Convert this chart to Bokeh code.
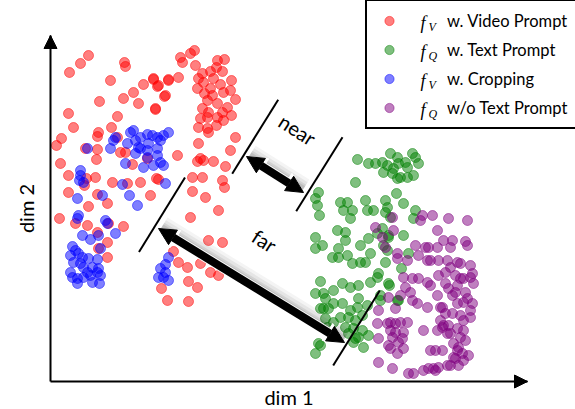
from bokeh.plotting import figure
from bokeh.models import (Range1d, FixedTicker, Arrow, NormalHead, Label,
                          LegendItem, Legend, ColumnDataSource)
from bokeh.embed import file_html
from bokeh.resources import INLINE

# ---------------- data (dim 1, dim 2) ----------------
VIDEO_PROMPT = [
    (88,55),(80,63),(69,72),(124,62),(125,66),(110,80),(99,101),(133,92),(138,103),(143,84),
    (153,79),(157,86),(168,79),(164,96),(155,109),(117,116),(123,98),(68,113),(73,127),(61,138),
    (56,145),(60,163),(98,132),(97,136),(111,127),(117,137),(85,148),(97,149),(96,159),(125,152),
    (68,175),(86,178),(95,177),(112,182),(127,183),(140,182),(156,178),(147,158),(177,155),(132,164),
    (120,152),(68,192),(84,185),(97,194),(107,203),(88,206),(59,218),(75,223),(87,225),(108,223),
    (123,226),(97,232),(107,242),(98,248),(107,257),(178,77),(168,80),(158,85),(153,78),(165,95),
    (155,108),(150,195),
    (180,57),(182,62),(190,53),(194,50),(195,65),(217,60),(224,59),(216,67),(222,71),(210,71),
    (202,73),(198,78),(203,82),(213,78),(231,80),(220,84),(197,88),(210,88),(204,93),(212,95),
    (223,92),(230,90),(235,99),(207,100),(217,103),(227,107),(202,108),(208,112),(222,112),(231,115),
    (200,118),(207,117),(217,117),(198,127),(207,128),(208,132),(216,125),(223,120),(235,137),(198,143),
    (230,150),(200,158),(197,161),(203,160),(213,161),(225,166),
    (222,180),(224,187),(192,177),(202,177),(192,191),(205,197),(218,210),(190,217),(208,240),(222,242),
    (158,179),(173,251),(178,262),(187,267),(161,288),(167,300),(188,281),(197,287),(188,301),(200,263),
    (218,275),(210,272),
]
TEXT_PROMPT = [
    (390,153),(397,157),(412,153),(415,157),(418,163),(357,159),(368,163),(375,163),(382,162),(387,165),
    (393,168),(398,163),(405,162),(407,167),(383,172),(392,173),(400,177),(407,177),(413,175),(397,178),
    (355,182),
    (318,192),(315,198),(317,205),(319,215),(340,202),(347,202),(343,210),(352,210),(350,218),(365,200),
    (367,210),(373,210),(385,200),(387,207),(385,212),(390,217),(396,193),(403,203),(415,210),(413,218),
    (403,235),(408,253),(401,268),(389,285),(398,300),(388,235),
    (315,237),(322,245),(315,248),(337,230),(345,232),(345,240),(338,248),(332,257),(338,257),(347,255),
    (352,263),(360,262),(365,262),(370,253),(368,238),(377,233),(382,228),(388,237),(383,245),(387,250),
    (360,245),(378,273),(370,282),(388,283),(397,300),(380,300),(377,277),(385,262),
    (315,293),(323,293),(333,290),(342,283),(350,287),(358,285),(323,308),(333,303),(342,303),(350,310),
    (357,307),(340,317),(348,317),(355,320),(362,315),(367,305),(362,330),(368,335),(363,347),(355,338),
    (318,343),(315,353),(333,322),(327,327),(353,328),(320,281),(325,298),(358,298),(320,308),(328,308),
    (325,318),(345,327),(348,333),(358,337),(353,342),(320,345),(380,295),
]
CROPPING = [
    (130,132),(133,130),(113,140),(115,137),(110,148),(127,143),(135,140),(140,148),(140,137),(147,134),
    (152,135),(157,137),(163,135),(168,132),(160,140),(148,143),(138,147),(135,153),(147,150),(157,148),
    (147,157),(157,155),(160,162),(163,165),(153,165),(143,167),(125,163),(87,148),(80,170),(165,183),
    (122,184),
    (80,175),(79,180),(83,182),(102,195),(77,198),(129,195),(137,205),(78,215),(77,218),(105,220),
    (107,223),(82,235),(98,235),(90,239),(100,248),(115,233),
    (72,246),(75,250),(70,255),(78,253),(82,257),(88,258),(97,259),(73,262),(83,267),(92,267),
    (98,268),(72,277),(77,278),(83,277),(90,275),(100,275),(92,282),(99,283),(70,272),(87,272),
    (97,272),(77,283),(80,263),
    (168,257),(160,268),(165,272),(158,277),(168,280),(163,277),(165,264),
]
NO_PROMPT = [
    (392,217),(422,215),(432,215),(448,218),(467,220),(437,230),(397,253),(415,245),(425,247),(437,247),
    (452,240),(465,241),(467,245),(418,255),(427,260),(438,260),(447,260),(457,262),(450,267),(470,265),
    (472,273),(455,275),(445,272),(438,275),(460,278),(412,278),(418,278),(427,282),(430,285),(445,283),
    (448,288),(457,285),(410,292),(412,300),(417,303),(427,307),(437,295),(452,295),(455,292),(465,292),
    (467,298),(472,303),(440,307),(445,313),(452,313),(460,315),(440,320),(443,325),(448,325),(463,320),
    (470,317),(457,328),(450,333),(460,337),(465,340),(453,343),(457,350),(462,353),(468,355),(455,358),
    (450,365),(458,365),(447,365),(438,367),(390,322),(395,323),(400,322),(407,322),(403,332),(395,332),
    (392,337),(398,342),(390,348),(403,348),(397,353),(423,330),(437,330),(430,350),(435,350),(442,350),
    (428,368),(435,370),(423,370),(413,373),(408,373),(392,368),
    (375,227),(382,237),(393,230),(385,247),(397,258),(407,260),(403,277),(405,287),(400,295),(388,297),
    (395,308),(378,310),(377,323),(387,323),(390,330),(402,338),(378,338),(388,345),(378,362),(447,333),
    (442,327),(442,307),(457,303),(463,302),(463,278),(470,277),(460,263),(430,260),(428,247),(443,240),
    (450,247),(420,220),(463,330),(458,347),(453,357),(463,360),(433,368),(470,310),(473,283),
]

SERIES = [
    ("w. Video Prompt", "V", "#ff0000", VIDEO_PROMPT),
    ("w. Text Prompt", "Q", "#008000", TEXT_PROMPT),
    ("w. Cropping", "V", "#0000ff", CROPPING),
    ("w/o Text Prompt", "Q", "#800080", NO_PROMPT),
]

FONT = "Lato"
W, H = 575, 409

p = figure(width=W, height=H, x_range=Range1d(0, W), y_range=Range1d(H, 0),
           output_backend="svg", toolbar_location=None, min_border=0,
           min_border_left=0, min_border_right=0, min_border_top=0, min_border_bottom=0,
           outline_line_color=None)
p.grid.visible = False

for ax in (p.xaxis[0], p.yaxis[0]):
    ax.ticker = FixedTicker(ticks=[])
    ax.major_label_text_font_size = "0px"
    ax.major_label_standoff = 0
    ax.major_tick_line_color = None
    ax.minor_tick_line_color = None
    ax.axis_line_width = 2
    ax.axis_line_color = "black"
    ax.axis_label_text_font = FONT
    ax.axis_label_text_font_style = "normal"
    ax.axis_label_text_font_size = "20px"
    ax.axis_label_text_color = "black"

p.xaxis.fixed_location = 381
p.xaxis.bounds = (50, 527)
p.xaxis.axis_label = "dim 1"
p.xaxis.axis_label_standoff = 3
p.yaxis.fixed_location = 50
p.yaxis.bounds = (35, 381)
p.yaxis.axis_label = "dim 2"
p.yaxis.axis_label_standoff = 13

# axis arrow heads
p.add_layout(Arrow(end=NormalHead(size=13, fill_color="black", line_color="black"),
                   x_start=515, y_start=381, x_end=527, y_end=381, line_width=2))
p.add_layout(Arrow(end=NormalHead(size=13, fill_color="black", line_color="black"),
                   x_start=50, y_start=47, x_end=50, y_end=35, line_width=2))

items = []
for label, sub, color, pts in SERIES:
    src = ColumnDataSource(dict(x=[q[0] for q in pts], y=[q[1] for q in pts]))
    r = p.scatter("x", "y", source=src, size=10, fill_color=color, line_color=color,
                  fill_alpha=0.5, line_alpha=0.5)
    k = p.scatter(x=[], y=[], size=10, fill_color=color, line_color=color)
    items.append(LegendItem(label=label, renderers=[r, k]))

# separator ticks
for (x0, y0, x1, y1) in [(277.7, 99.3, 231.7, 173.3), (342, 136.7, 295.7, 210.7),
                         (184.5, 177, 138.5, 251.5), (379.3, 290, 332.7, 365)]:
    p.add_layout(Arrow(start=None, end=None, x_start=x0, y_start=y0, x_end=x1, y_end=y1,
                       line_width=2, line_color="black"))

# big double arrows with soft shadow
for (x0, y0, x1, y1) in [(246, 156, 303, 192), (158, 228, 344, 342)]:
    dx, dy = x1 - x0, y1 - y0
    L = (dx * dx + dy * dy) ** 0.5
    ux, uy = dx / L, dy / L
    nx, ny = uy, -ux
    for off, w, a in [(8, 12, 0.05), (6, 10, 0.07), (4, 8, 0.1), (3, 6, 0.12)]:
        p.add_layout(Arrow(start=None, end=None,
                           x_start=x0 + nx * off + ux * 2, y_start=y0 + ny * off + uy * 2,
                           x_end=x1 + nx * off - ux * 2, y_end=y1 + ny * off - uy * 2,
                           line_width=w, line_color="#303030", line_alpha=a))
    p.add_layout(Arrow(start=NormalHead(size=20, fill_color="white", line_color="white"),
                       end=NormalHead(size=20, fill_color="white", line_color="white"),
                       x_start=x0, y_start=y0, x_end=x1, y_end=y1,
                       line_width=10, line_color="white"))
    p.add_layout(Arrow(start=NormalHead(size=17, fill_color="black", line_color="black"),
                       end=NormalHead(size=17, fill_color="black", line_color="black"),
                       x_start=x0, y_start=y0, x_end=x1, y_end=y1,
                       line_width=8, line_color="black"))

p.add_layout(Label(x=297, y=129, text="near", angle=-0.57, text_align="center",
                   text_baseline="middle", text_font=FONT, text_font_size="20px",
                   text_color="black"))
p.add_layout(Label(x=264, y=240, text="far", angle=-0.57, text_align="center",
                   text_baseline="middle", text_font=FONT, text_font_size="20px",
                   text_color="black"))

LEG_TOP, LEG_LEFT, PAD, GH, SP = 3, 365, 8, 23, 6
leg_h = 2 * PAD + 4 * GH + 3 * SP
legend = Legend(items=items, location=(LEG_LEFT, H - LEG_TOP - leg_h), padding=PAD, spacing=SP,
                glyph_height=GH, glyph_width=28, label_height=GH, label_standoff=44,
                label_text_font=FONT, label_text_font_size="16.5px", label_text_color="black",
                border_line_color="black", border_line_width=2, border_line_alpha=1,
                background_fill_color="white", background_fill_alpha=0, margin=0)
p.add_layout(legend)

for i, (label, sub, color, pts) in enumerate(SERIES):
    yy = LEG_TOP + PAD + GH / 2 + (GH + SP) * i
    p.add_layout(Label(x=420, y=yy, text="f", text_font="Liberation Serif",
                       text_font_style="italic", text_font_size="18px", text_color="black",
                       text_baseline="middle", text_align="left", level="overlay"))
    p.add_layout(Label(x=428, y=yy + 4, text=sub, text_font="Liberation Serif",
                       text_font_style="italic", text_font_size="12px", text_color="black",
                       text_baseline="middle", text_align="left", level="overlay"))

open("out.html", "w").write(file_html(p, INLINE))
